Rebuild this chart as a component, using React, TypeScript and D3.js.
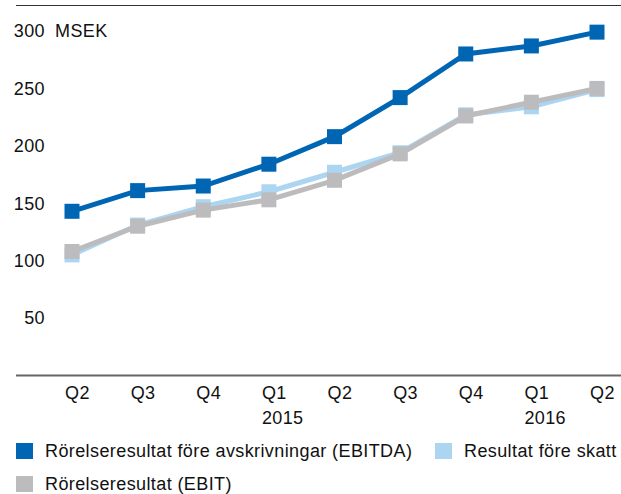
import React, { useEffect, useRef } from 'react'
import * as d3 from 'd3'

const quarters = ['Q2', 'Q3', 'Q4', 'Q1', 'Q2', 'Q3', 'Q4', 'Q1', 'Q2']
const years = ['', '', '', '2015', '', '', '', '2016', '']
const ebitda = [143, 161, 165, 184, 208, 242, 280, 287, 299]
const preTax = [105, 131, 147, 160, 177, 194, 227, 234, 249]
const ebit = [108, 130, 144, 153, 170, 193, 226, 238, 250]
const yTicks = [50, 100, 150, 200, 250, 300]

const series = [
    { name: 'Resultat före skatt', values: preTax, color: '#acd5f1' },
    { name: 'Rörelseresultat (EBIT)', values: ebit, color: '#bcbcbe' },
    { name: 'Rörelseresultat före avskrivningar (EBITDA)', values: ebitda, color: '#0066b3' },
]

const FONT = '"Liberation Sans", Arial, Helvetica, sans-serif'

function App() {
    const svgRef = useRef<SVGSVGElement>(null)

    useEffect(() => {
        const width = 621
        const height = 494
        const svg = d3.select(svgRef.current)
            .attr('width', width)
            .attr('height', height)
        svg.selectAll('*').remove()

        const x = d3.scalePoint<number>()
            .domain(quarters.map((d, i) => i))
            .range([72, 597])

        const y = d3.scaleLinear()
            .domain([0, 300])
            .range([375.5, 31])

        // top rule
        svg.append('line')
            .attr('x1', 16).attr('x2', width)
            .attr('y1', 5.5).attr('y2', 5.5)
            .attr('stroke', '#333').attr('stroke-width', 1)

        // baseline
        svg.append('line')
            .attr('x1', 16).attr('x2', width)
            .attr('y1', y(0)).attr('y2', y(0))
            .attr('stroke', '#666').attr('stroke-width', 2)

        // y axis labels
        const yAxis = d3.axisLeft(y).tickValues(yTicks).tickSize(0).tickPadding(0)
        const gy = svg.append('g')
            .attr('transform', 'translate(45,0)')
            .call(yAxis)
        gy.select('.domain').remove()
        gy.selectAll('text')
            .attr('font-family', FONT)
            .attr('font-size', 18)
            .attr('letter-spacing', 0.4)
            .attr('fill', '#111')
        svg.append('text')
            .attr('x', 55).attr('y', y(300))
            .attr('dy', '0.32em')
            .attr('font-family', FONT)
            .attr('font-size', 18)
            .attr('letter-spacing', 0.4)
            .attr('fill', '#111')
            .text('MSEK')

        // x labels
        const gx = svg.append('g')
        gx.selectAll('.q')
            .data(quarters)
            .join('text')
            .attr('x', (d, i) => (x(i) as number) - 7)
            .attr('y', 399)
            .attr('font-family', FONT)
            .attr('font-size', 18)
            .attr('letter-spacing', 0.4)
            .attr('fill', '#111')
            .text(d => d)
        gx.selectAll('.yr')
            .data(years)
            .join('text')
            .attr('x', (d, i) => (x(i) as number) - 7)
            .attr('y', 424)
            .attr('font-family', FONT)
            .attr('font-size', 18)
            .attr('letter-spacing', 0.4)
            .attr('fill', '#111')
            .text(d => d)

        const line = d3.line<number>()
            .x((d, i) => x(i) as number)
            .y(d => y(d))

        const ms = 15
        series.forEach(s => {
            const g = svg.append('g')
            g.append('path')
                .attr('d', line(s.values))
                .attr('fill', 'none')
                .attr('stroke', s.color)
                .attr('stroke-width', 5)
            g.selectAll('rect')
                .data(s.values)
                .join('rect')
                .attr('x', (d, i) => (x(i) as number) - ms / 2)
                .attr('y', d => y(d) - ms / 2)
                .attr('width', ms)
                .attr('height', ms)
                .attr('fill', s.color)
        })

        // legend
        const legend = [
            { item: series[2], lx: 16, ly: 443 },
            { item: series[0], lx: 435, ly: 443 },
            { item: series[1], lx: 16, ly: 476 },
        ]
        const lg = svg.append('g')
        legend.forEach(l => {
            lg.append('rect')
                .attr('x', l.lx).attr('y', l.ly)
                .attr('width', 17).attr('height', 16)
                .attr('fill', l.item.color)
            lg.append('text')
                .attr('x', l.lx + 29).attr('y', l.ly + 14)
                .attr('font-family', FONT)
                .attr('font-size', 18)
                .attr('letter-spacing', 0.4)
                .attr('fill', '#111')
                .text(l.item.name)
        })
    }, [])

    return (
        <div className='App'>
            <svg ref={svgRef} style={{ position: 'absolute', left: 0, top: 0 }}></svg>
        </div>
    )
}

export default App
